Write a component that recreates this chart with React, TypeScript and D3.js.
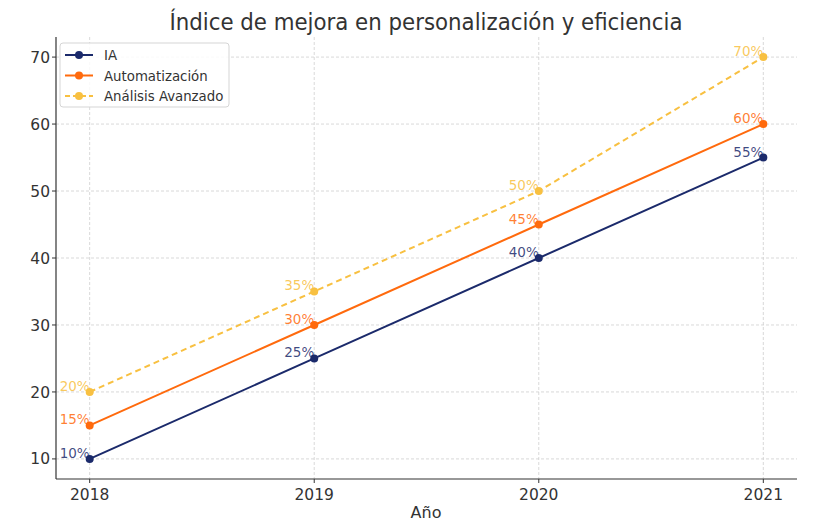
import React from "react";
import * as d3 from "d3";

const years = [2018, 2019, 2020, 2021];
const seriesNames = ["IA", "Automatización", "Análisis Avanzado"];
const iaValues = [10, 25, 40, 55];
const autoValues = [15, 30, 45, 60];
const analisisValues = [20, 35, 50, 70];
const yTicks = [10, 20, 30, 40, 50, 60, 70];
const colors = ["#1b2a6b", "#ff6a0d", "#f8c041"];
const dashes = [null, null, "6,4"];

const W = 818, H = 530;
const L = 56, R = 797, T = 37, B = 479;

export default function App() {
  const x = d3.scaleLinear().domain([2017.85, 2021.15]).range([L, R]);
  const y = d3.scaleLinear().domain([7, 73]).range([B, T]);
  const all = [iaValues, autoValues, analisisValues];
  const line = d3.line<[number, number]>().x(d => x(d[0])).y(d => y(d[1]));
  const font = "'DejaVu Sans', sans-serif";
  const cond = "'DejaVu Sans Condensed', 'DejaVu Sans', sans-serif";
  return (
    <svg width={W} height={H} style={{ position: "absolute", left: 0, top: 0, background: "#fff" }}>
      <rect width={W} height={H} fill="#fff" />
      <text x={426} y={30} textAnchor="middle" fontFamily={cond} fontSize={23.7} fill="#333">
        Índice de mejora en personalización y eficiencia
      </text>
      {years.map(v => (
        <line key={"gx" + v} x1={x(v)} x2={x(v)} y1={T} y2={B} stroke="#cfcfcf" strokeDasharray="3,2" strokeWidth={0.8} />
      ))}
      {yTicks.map(v => (
        <line key={"gy" + v} x1={L} x2={R} y1={y(v)} y2={y(v)} stroke="#cfcfcf" strokeDasharray="3,2" strokeWidth={0.8} />
      ))}
      <line x1={L} x2={L} y1={T} y2={B} stroke="#333" strokeWidth={1.2} />
      <line x1={L} x2={R} y1={B} y2={B} stroke="#333" strokeWidth={1.2} />
      {yTicks.map(v => (
        <g key={"ty" + v}>
          <line x1={L - 4} x2={L} y1={y(v)} y2={y(v)} stroke="#333" />
          <text x={L - 6} y={y(v)} dy="0.36em" textAnchor="end" fontFamily={font} fontSize={15.5} fill="#333">{v}</text>
        </g>
      ))}
      {years.map(v => (
        <g key={"tx" + v}>
          <line x1={x(v)} x2={x(v)} y1={B} y2={B + 4} stroke="#333" />
          <text x={x(v)} y={B + 21} textAnchor="middle" fontFamily={font} fontSize={15.5} fill="#333">{v}</text>
        </g>
      ))}
      <text x={426} y={518} textAnchor="middle" fontFamily={font} fontSize={16} fill="#333">Año</text>
      {all.map((vals, i) => {
        const pts = years.map((yr, j) => [yr, vals[j]] as [number, number]);
        return (
          <g key={"s" + i}>
            <path d={line(pts) || ""} fill="none" stroke={colors[i]} strokeWidth={2} strokeDasharray={dashes[i] || undefined} />
            {pts.map((p, j) => (
              <circle key={j} cx={x(p[0])} cy={y(p[1])} r={4} fill={colors[i]} />
            ))}
            {pts.map((p, j) => (
              <text key={"l" + j} x={x(p[0])} y={y(p[1]) - 1} textAnchor="end" fontFamily={font} fontSize={13.5} fill={colors[i]} fillOpacity={0.85}>
                {p[1]}%
              </text>
            ))}
          </g>
        );
      })}
      <g>
        <rect x={60} y={43} width={169} height={64} rx={3} fill="#fff" fillOpacity={0.85} stroke="#d5d5d5" />
        {seriesNames.map((n, i) => {
          const ly = 55 + i * 20.5;
          return (
            <g key={"lg" + i}>
              <line x1={65} x2={93} y1={ly} y2={ly} stroke={colors[i]} strokeWidth={2} strokeDasharray={dashes[i] ? "5,3" : undefined} />
              <circle cx={79} cy={ly} r={4} fill={colors[i]} />
              <text x={104} y={ly} dy="0.36em" fontFamily={cond} fontSize={14.8} fill="#333">{n}</text>
            </g>
          );
        })}
      </g>
    </svg>
  );
}
